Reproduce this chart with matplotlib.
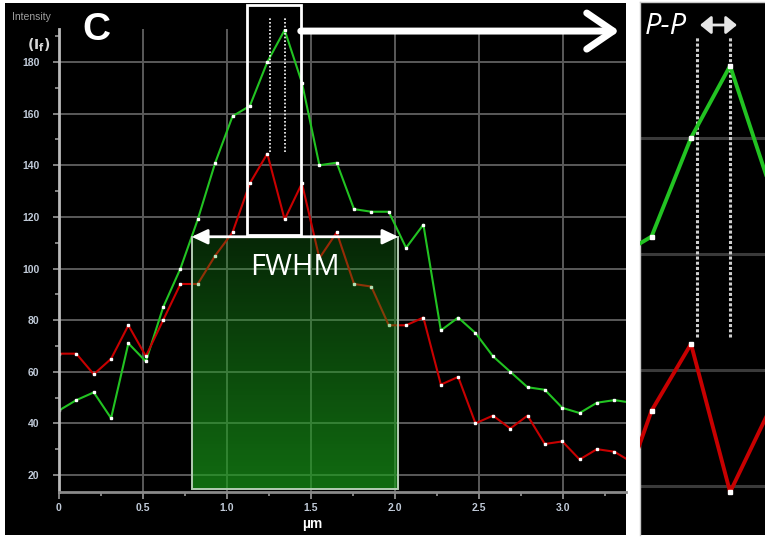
import numpy as np
import matplotlib
matplotlib.use("Agg")
import matplotlib.pyplot as plt
from matplotlib.patches import Rectangle, FancyArrowPatch

plt.rcParams['font.family'] = ['Liberation Sans', 'DejaVu Sans']

# profile positions (um) and intensities
pos_um = [0.0, 0.103, 0.207, 0.310, 0.413, 0.517, 0.620, 0.723, 0.826, 0.930,
          1.033, 1.136, 1.240, 1.343, 1.446, 1.550, 1.653, 1.756, 1.859, 1.963,
          2.066, 2.169, 2.273, 2.376, 2.479, 2.583, 2.686, 2.789, 2.892, 2.996,
          3.099, 3.202, 3.306, 3.409]
green_int = [45, 49, 52, 42, 71, 64, 85, 100, 119, 141,
             159, 163, 180, 192.4, 172, 140, 141, 123, 122, 122,
             108, 117, 76, 81, 75, 66, 60, 54, 53, 46,
             44, 48, 49, 48]
red_int = [67, 67, 59, 65, 78, 66, 80, 94, 94, 105,
           114, 133, 144.5, 119, 133, 104, 114, 94, 93, 78,
           78, 81, 55, 58, 40, 43, 38, 43, 32, 33,
           26, 30, 29, 25]

x_ticks = [0, 0.5, 1.0, 1.5, 2.0, 2.5, 3.0]
x_labels = ['0', '0.5', '1.0', '1.5', '2.0', '2.5', '3.0']
y_ticks = [20, 40, 60, 80, 100, 120, 140, 160, 180]

fwhm_x = [0.79, 2.02]      # FWHM band
fwhm_top = 112.3
peak_lines_x = [1.257, 1.344]   # P-P markers
peak_lines_y = [145.3, 197.0]
zoom_box_x = [1.117, 1.439]

W, H = 765, 538
fig = plt.figure(figsize=(W / 100, H / 100), dpi=100, facecolor='white')

# black panel behind the main plot
fig.add_artist(Rectangle((5 / W, 1 - 535 / H), (626 - 5) / W, (535 - 3) / H,
                         transform=fig.transFigure, fc='black', ec='none', zorder=0))

ax = fig.add_axes([59 / W, 1 - 492 / H, (626 - 59) / W, (492 - 29) / H])
ax.set_facecolor('black')

GREEN = '#22c322'
RED = '#c80000'

ax.plot(pos_um, green_int, color=GREEN, lw=1.5, marker='s', ms=2.1,
        mfc='white', mec='white', zorder=2)
ax.plot(pos_um, red_int, color=RED, lw=1.5, marker='s', ms=2.1,
        mfc='white', mec='white', zorder=2)

# FWHM band (green gradient laid over the lines)
grad = np.zeros((120, 1, 4))
grad[..., 0] = 0.10
grad[..., 1] = 0.62
grad[..., 2] = 0.10
grad[:, 0, 3] = np.linspace(0.25, 0.68, 120)
ax.imshow(grad, extent=[fwhm_x[0], fwhm_x[1], 14.6, fwhm_top], origin='upper',
          aspect='auto', zorder=3, interpolation='bilinear')
ax.add_patch(Rectangle((fwhm_x[0], 14.6), fwhm_x[1] - fwhm_x[0], fwhm_top - 14.6,
                       fill=False, ec='#b4ccb4', lw=1.4, zorder=4))
ax.add_patch(FancyArrowPatch((fwhm_x[0], fwhm_top), (fwhm_x[1], fwhm_top),
                             arrowstyle='<|-|>,head_length=0.95,head_width=0.45',
                             mutation_scale=10, color='white', lw=2,
                             shrinkA=0, shrinkB=0, zorder=6, clip_on=False))
ax.text(1.402, 100.4, 'FWHM', fontsize=21, family='Open Sans', color='white',
        ha='center', va='center', zorder=7)

# box around the peaks and the arrow to the zoom panel
ax.add_patch(Rectangle((zoom_box_x[0], 113.0), zoom_box_x[1] - zoom_box_x[0], 89.1,
                       fill=False, ec='white', lw=2, zorder=5, clip_on=False))
for px in peak_lines_x:
    ax.plot([px, px], peak_lines_y, color='white', lw=1.2, ls=(0, (1, 1.2)),
            zorder=5, clip_on=False)
ax.annotate('', xy=(3.335, 192.0), xytext=(zoom_box_x[1], 192.0),
            annotation_clip=False,
            arrowprops=dict(arrowstyle='->,head_length=0.95,head_width=0.65',
                            mutation_scale=20, lw=5, color='white',
                            shrinkA=0, shrinkB=0, clip_on=False))

ax.set_xlim(0, 3.375)
ax.set_ylim(13.4, 192.8)
ax.set_xticks(x_ticks)
ax.set_xticklabels(x_labels)
ax.set_xticks(np.arange(0.25, 3.3, 0.5), minor=True)
ax.set_yticks(y_ticks)
ax.set_yticks(np.arange(30, 191, 20), minor=True)
ax.grid(True, which='major', color='#5a5a5a', lw=1.4)
ax.set_axisbelow(True)

for s in ['top', 'right']:
    ax.spines[s].set_visible(False)
ax.spines['bottom'].set_color('#8a8a8a')
ax.spines['bottom'].set_linewidth(2)
ax.spines['left'].set_color('#bbbbbb')
ax.spines['left'].set_linewidth(2)
ax.spines['left'].set_linestyle((0, (1, 1)))

ax.tick_params(axis='both', which='both', colors='#9a9a9a', labelcolor='#c0cad8',
               labelsize=7.5, width=1.2)
ax.tick_params(axis='x', which='major', length=5, pad=3)
ax.tick_params(axis='x', which='minor', length=3)
ax.tick_params(axis='y', which='major', length=4, pad=10)
ax.tick_params(axis='y', which='minor', length=3)
for lab in ax.get_xticklabels() + ax.get_yticklabels():
    lab.set_fontweight('bold')

fig.text(312 / W, 1 - 524 / H, 'µm', color='white', fontweight='bold',
         fontsize=10, ha='center', va='center')
fig.text(12 / W, 1 - 17 / H, 'Intensity', color='#a0a0a0', fontsize=7.5, va='center')
fig.text(27 / W, 1 - 45 / H, r'$\mathbf{(I_f)}$', color='#d8d8d8', fontsize=10,
         va='center')
fig.text(82 / W, 1 - 40 / H, 'C', color='white', fontweight='bold', fontsize=28,
         va='baseline')

# zoomed panel on the right
ax2 = fig.add_axes([640 / W, 1 - 535 / H, 125 / W, 533 / H])
ax2.set_facecolor('black')
ax2.plot(pos_um, green_int, color=GREEN, lw=2.8, marker='s', ms=3.4,
         mfc='white', mec='white', zorder=3)
ax2.plot(pos_um, red_int, color=RED, lw=2.8, marker='s', ms=3.4,
         mfc='white', mec='white', zorder=3)
for px in peak_lines_x:
    ax2.plot([px, px], [145.7, 197.4], color='#cfcfcf', lw=2.2, ls=(0, (1, 0.7)),
             zorder=2)
ax2.set_xlim(1.1056, 1.435)
ax2.set_ylim(111.6, 203.4)
ax2.set_xticks([])
ax2.set_yticks([120, 140, 160, 180])
ax2.yaxis.grid(True, color='#3a3a3a', lw=2.2)
ax2.set_axisbelow(True)
ax2.tick_params(length=0, labelleft=False)
for s in ['right', 'bottom']:
    ax2.spines[s].set_visible(False)
for s in ['top', 'left']:
    ax2.spines[s].set_color('#c8c8c8')
    ax2.spines[s].set_linewidth(1)

fig.text(645 / W, 1 - 26 / H, 'P-P', color='white', fontsize=21, style='italic',
         family=['Open Sans', 'DejaVu Sans'], va='center')
fig.add_artist(FancyArrowPatch((700 / W, 1 - 25 / H), (737 / W, 1 - 25 / H),
                               transform=fig.transFigure,
                               arrowstyle='<|-|>,head_length=0.55,head_width=0.45',
                               mutation_scale=12, color='#e6e6e6', lw=2,
                               shrinkA=0, shrinkB=0))

fig.savefig('out.png', dpi=100, facecolor='white')
